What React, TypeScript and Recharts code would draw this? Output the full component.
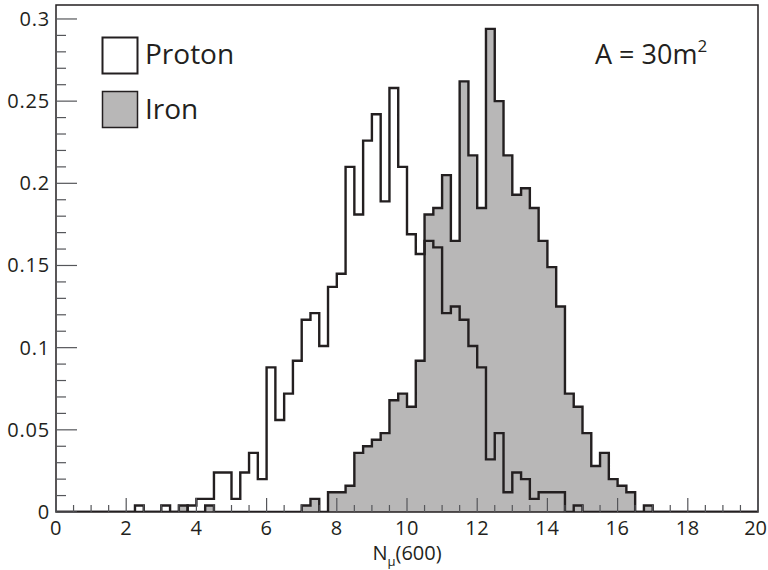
import React from 'react';
import { ComposedChart, Area, Line, XAxis, YAxis, ReferenceArea } from 'recharts';

// bins of 0.25 in N_mu(600), from 0 to 20
const BIN_WIDTH = 0.25;

const PROTON = [
  0, 0, 0, 0, 0, 0, 0, 0, 0, 0.004,
  0, 0, 0.004, 0, 0, 0.004, 0.008, 0.008, 0.024, 0.024,
  0.008, 0.024, 0.036, 0.02, 0.088, 0.056, 0.072, 0.092, 0.117, 0.121,
  0.101, 0.137, 0.145, 0.21, 0.181, 0.226, 0.242, 0.189, 0.258, 0.21,
  0.169, 0.157, 0.165, 0.161, 0.121, 0.125, 0.117, 0.101, 0.088, 0.032,
  0.048, 0.012, 0.024, 0.02, 0.008, 0.012, 0.012, 0.012, 0, 0.004,
  0, 0, 0, 0, 0, 0, 0, 0, 0, 0,
  0, 0, 0, 0, 0, 0, 0, 0, 0, 0,
];

const IRON = [
  0, 0, 0, 0, 0, 0, 0, 0, 0, 0,
  0, 0, 0, 0, 0.004, 0, 0, 0.004, 0, 0,
  0, 0, 0, 0, 0, 0, 0, 0, 0.004, 0.008,
  0, 0.012, 0.012, 0.016, 0.036, 0.04, 0.044, 0.048, 0.068, 0.072,
  0.064, 0.092, 0.181, 0.185, 0.205, 0.165, 0.262, 0.217, 0.185, 0.294,
  0.25, 0.217, 0.193, 0.197, 0.185, 0.165, 0.149, 0.125, 0.072, 0.064,
  0.048, 0.028, 0.036, 0.02, 0.016, 0.012, 0, 0.004, 0, 0,
  0, 0, 0, 0, 0, 0, 0, 0, 0, 0,
];

const X_MAJOR = [0, 2, 4, 6, 8, 10, 12, 14, 16, 18, 20];
const Y_MAJOR = [0, 0.05, 0.1, 0.15, 0.2, 0.25, 0.3];
const Y_MAX = 0.3085;

const X_TICKS = Array.from({ length: 41 }, (_, i) => i * 0.5);
const Y_TICKS = Array.from({ length: 31 }, (_, i) => +(i * 0.01).toFixed(2));

const data = PROTON.map((p, k) => ({ x: k * BIN_WIDTH, proton: p, iron: IRON[k] }));
data.push({ x: PROTON.length * BIN_WIDTH, proton: PROTON[PROTON.length - 1], iron: IRON[IRON.length - 1] });

const W = 768;
const H = 570;
const PLOT_LEFT = 56;
const PLOT_BOTTOM = 512;
const INK = '#231f20';
const TICK = '#55565a';
const FILL = '#b8b7b7';
const FONT = '"Open Sans", sans-serif';

const isMajor = (list: number[], v: number) => list.some((m) => Math.abs(m - v) < 1e-6);

const YTick = (props: any) => {
  const { y, payload } = props;
  const v = payload.value;
  const major = isMajor(Y_MAJOR, v);
  return (
    <g>
      <line x1={PLOT_LEFT} x2={PLOT_LEFT + (major ? 21 : 10)} y1={y} y2={y} stroke={TICK} strokeWidth={1.2} />
      {major && (
        <text x={PLOT_LEFT - 6} y={y} dy={7} textAnchor="end" fontSize={20} letterSpacing={0.8} fill={INK} fontFamily={FONT}>
          {String(+v.toFixed(2))}
        </text>
      )}
    </g>
  );
};

const XTick = (props: any) => {
  const { x, payload } = props;
  const v = payload.value;
  const major = isMajor(X_MAJOR, v);
  // keep the last label inside the page
  const last = v === X_MAJOR[X_MAJOR.length - 1];
  return (
    <g>
      <line x1={x} x2={x} y1={PLOT_BOTTOM} y2={PLOT_BOTTOM - (major ? 14 : 7)} stroke={TICK} strokeWidth={1.2} />
      {major && (
        <text
          x={last ? W - 1 : x}
          y={PLOT_BOTTOM + 23}
          textAnchor={last ? 'end' : 'middle'}
          fontSize={20}
          letterSpacing={last ? 0 : 0.6}
          fill={INK}
          fontFamily={FONT}
        >
          {v}
        </text>
      )}
    </g>
  );
};

const XTitle = (props: any) => {
  const { viewBox } = props;
  const cx = viewBox.x + viewBox.width / 2;
  return (
    <text x={cx} y={560} textAnchor="middle" fontSize={20} fill={INK} fontFamily={FONT}>
      <tspan>N</tspan>
      <tspan dy={6} fontSize={13}>μ</tspan>
      <tspan dy={-6}>(600)</tspan>
    </text>
  );
};

export default function App() {
  return (
    <div style={{ position: 'absolute', left: 0, top: 0, width: W, height: H, background: '#fff', fontFamily: FONT }}>
      <ComposedChart width={W} height={H} data={data} margin={{ top: 5, right: 10, left: 0, bottom: 0 }}>
        <XAxis
          type="number"
          dataKey="x"
          domain={[0, 20]}
          ticks={X_TICKS}
          interval={0}
          height={58}
          tick={XTick}
          tickLine={false}
          axisLine={false}
          allowDataOverflow
          label={{ content: XTitle }}
        />
        <YAxis
          type="number"
          domain={[0, Y_MAX]}
          ticks={Y_TICKS}
          interval={0}
          width={PLOT_LEFT}
          tick={YTick}
          tickLine={false}
          axisLine={false}
          allowDataOverflow
        />
        <Area
          type="stepAfter"
          dataKey="iron"
          name="Iron"
          stroke={INK}
          strokeWidth={2.4}
          fill={FILL}
          fillOpacity={1}
          isAnimationActive={false}
        />
        <Line
          type="stepAfter"
          dataKey="proton"
          name="Proton"
          stroke={INK}
          strokeWidth={2.4}
          dot={false}
          isAnimationActive={false}
        />
        <ReferenceArea x1={0} x2={20} y1={0} y2={Y_MAX} fill="none" stroke={INK} strokeWidth={1.5} ifOverflow="visible" />
      </ComposedChart>
      <svg width={W} height={H} style={{ position: 'absolute', left: 0, top: 0, pointerEvents: 'none' }}>
        <rect x={102.5} y={37.5} width={35} height={36} fill="#fff" stroke={INK} strokeWidth={2} />
        <text x={145} y={64} fontSize={28} fill={INK} fontFamily={FONT}>Proton</text>
        <rect x={102.5} y={91.5} width={35} height={36} fill={FILL} stroke={INK} strokeWidth={1.5} />
        <text x={145} y={119} fontSize={28} fill={INK} fontFamily={FONT}>Iron</text>
        <text x={595} y={64} fontSize={27} fill={INK} fontFamily={FONT}>
          A = 30m<tspan dy={-12} fontSize={17}>2</tspan>
        </text>
      </svg>
    </div>
  );
}
